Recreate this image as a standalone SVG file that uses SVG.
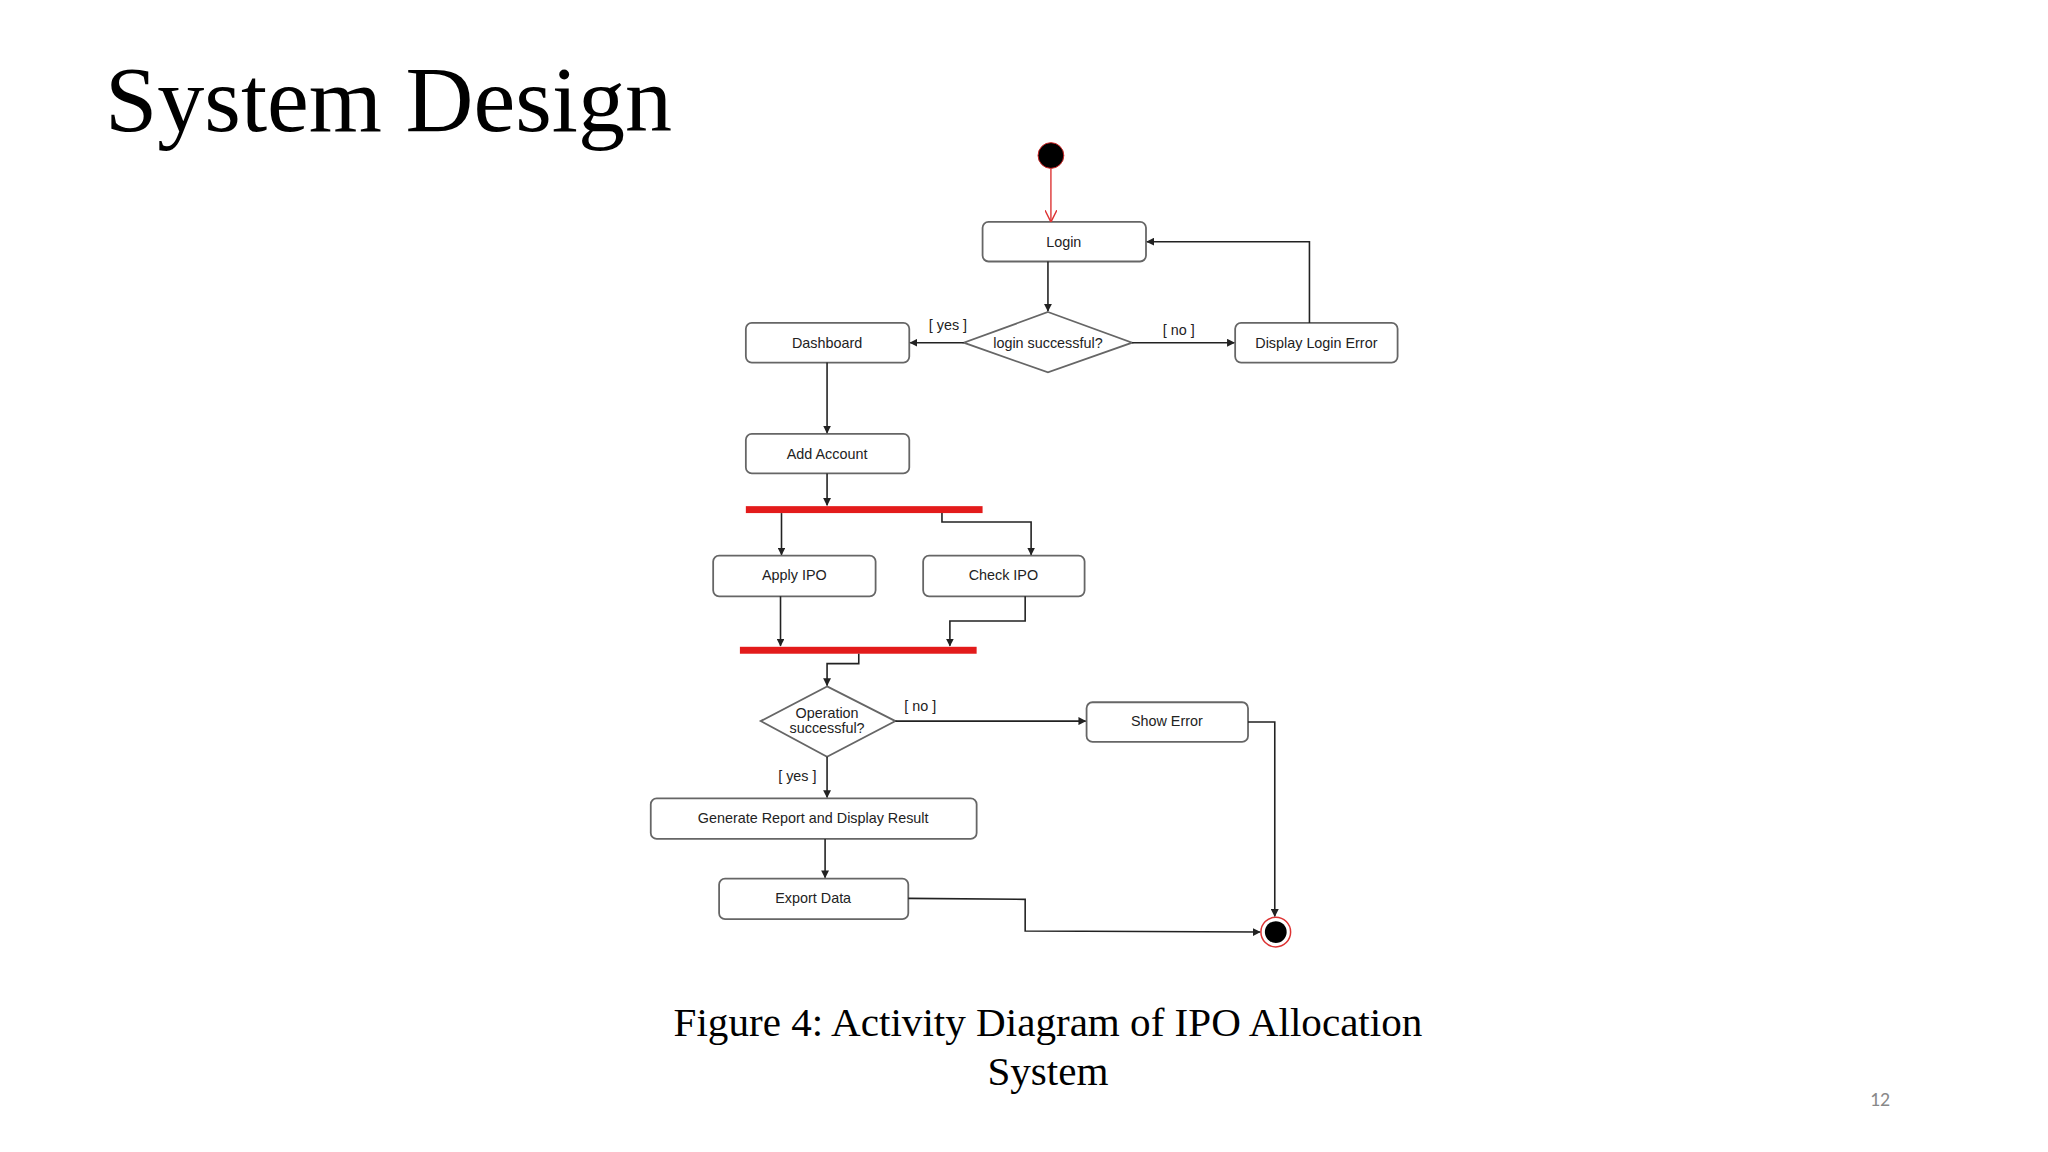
<svg xmlns="http://www.w3.org/2000/svg" width="2048" height="1152" viewBox="0 0 2048 1152">
<style>
.n{fill:#fff;stroke:#666;stroke-width:1.8}
.t{font-family:"Liberation Sans",Arial,sans-serif;font-size:14.5px;fill:#222;text-anchor:middle}
.c{fill:none;stroke:#222;stroke-width:1.6}
.bar{fill:#e31b1b}
.serif{font-family:"Liberation Serif","Times New Roman",serif;fill:#000}
</style>
<defs>
<marker id="a" viewBox="0 0 10 10" refX="9" refY="5" markerWidth="8" markerHeight="8" orient="auto" markerUnits="userSpaceOnUse"><path d="M0,0L10,5L0,10z" fill="#222"/></marker>
<marker id="r" viewBox="0 0 10 10" refX="9" refY="5" markerWidth="12" markerHeight="12" orient="auto" markerUnits="userSpaceOnUse"><path d="M0,0L10,5L0,10" fill="none" stroke="#d33" stroke-width="1.2"/></marker>
</defs>
<rect width="2048" height="1152" fill="#fff"/>
<g transform="scale(0.9905)">
<text class="serif" x="106" y="132" font-size="95">System Design</text>

<g id="start"><circle cx="1061" cy="157" r="13" fill="#000" stroke="#c22" stroke-width="1"/></g>
<g id="login"><rect class="n" x="992" y="224" width="165" height="40" rx="6"/><text class="t" x="1074" y="249">Login</text></g>
<g id="decision1"><polygon class="n" points="1058,315 1143,346 1058,376 973,346"/><text class="t" x="1058" y="351">login successful?</text></g>
<g id="dashboard"><rect class="n" x="753" y="326" width="165" height="40" rx="6"/><text class="t" x="835" y="351">Dashboard</text></g>
<g id="loginerror"><rect class="n" x="1247" y="326" width="164" height="40" rx="6"/><text class="t" x="1329" y="351">Display Login Error</text></g>
<g id="addaccount"><rect class="n" x="753" y="438" width="165" height="40" rx="6"/><text class="t" x="835" y="463">Add Account</text></g>
<g id="fork"><rect class="bar" x="753" y="511" width="239" height="7"/></g>
<g id="apply"><rect class="n" x="720" y="561" width="164" height="41" rx="6"/><text class="t" x="802" y="586">Apply IPO</text></g>
<g id="check"><rect class="n" x="932" y="561" width="163" height="41" rx="6"/><text class="t" x="1013" y="586">Check IPO</text></g>
<g id="join"><rect class="bar" x="747" y="653" width="239" height="7"/></g>
<g id="decision2"><polygon class="n" points="835,693 904,728 835,764 768,728"/><text class="t" x="835" y="725">Operation</text><text class="t" x="835" y="740">successful?</text></g>
<g id="showerror"><rect class="n" x="1097" y="709" width="163" height="40" rx="6"/><text class="t" x="1178" y="733">Show Error</text></g>
<g id="generate"><rect class="n" x="657" y="806" width="329" height="41" rx="6"/><text class="t" x="821" y="831">Generate Report and Display Result</text></g>
<g id="export"><rect class="n" x="726" y="887" width="191" height="41" rx="6"/><text class="t" x="821" y="912">Export Data</text></g>
<g id="end"><circle cx="1288" cy="941" r="15" fill="#fff" stroke="#d33" stroke-width="1.5"/><circle cx="1288" cy="941" r="11" fill="#000"/></g>

<g id="connectors">
<path d="M1061,170V223" fill="none" stroke="#d33" stroke-width="1.4" marker-end="url(#r)"/>
<path class="c" d="M1058,264V314" marker-end="url(#a)"/>
<path class="c" d="M973,346H919" marker-end="url(#a)"/>
<path class="c" d="M1143,346H1246" marker-end="url(#a)"/>
<path class="c" d="M1322,326V244H1158" marker-end="url(#a)"/>
<path class="c" d="M835,366V437" marker-end="url(#a)"/>
<path class="c" d="M835,478V510" marker-end="url(#a)"/>
<path class="c" d="M789,518V560" marker-end="url(#a)"/>
<path class="c" d="M951,518V527H1041V560" marker-end="url(#a)"/>
<path class="c" d="M788,602V652" marker-end="url(#a)"/>
<path class="c" d="M1035,602V627H959V652" marker-end="url(#a)"/>
<path class="c" d="M867,660V670H835V692" marker-end="url(#a)"/>
<path class="c" d="M904,728H1096" marker-end="url(#a)"/>
<path class="c" d="M1260,729H1287V925" marker-end="url(#a)"/>
<path class="c" d="M835,764V805" marker-end="url(#a)"/>
<path class="c" d="M833,847V886" marker-end="url(#a)"/>
<path class="c" d="M917,907L1035,908V940L1272,941" marker-end="url(#a)"/>
<text class="t" x="957" y="333" font-size="13">[ yes ]</text>
<text class="t" x="1190" y="338" font-size="13">[ no ]</text>
<text class="t" x="929" y="718" font-size="13">[ no ]</text>
<text class="t" x="805" y="788" font-size="13">[ yes ]</text>
</g>

<text class="serif" x="1058" y="1046" font-size="41.5" text-anchor="middle">Figure 4: Activity Diagram of IPO Allocation</text>
<text class="serif" x="1058" y="1095" font-size="41.5" text-anchor="middle">System</text>
<text x="1898" y="1117" font-family="Calibri,'Liberation Sans',sans-serif" font-size="20" fill="#888" text-anchor="middle">12</text>
</g>
</svg>
